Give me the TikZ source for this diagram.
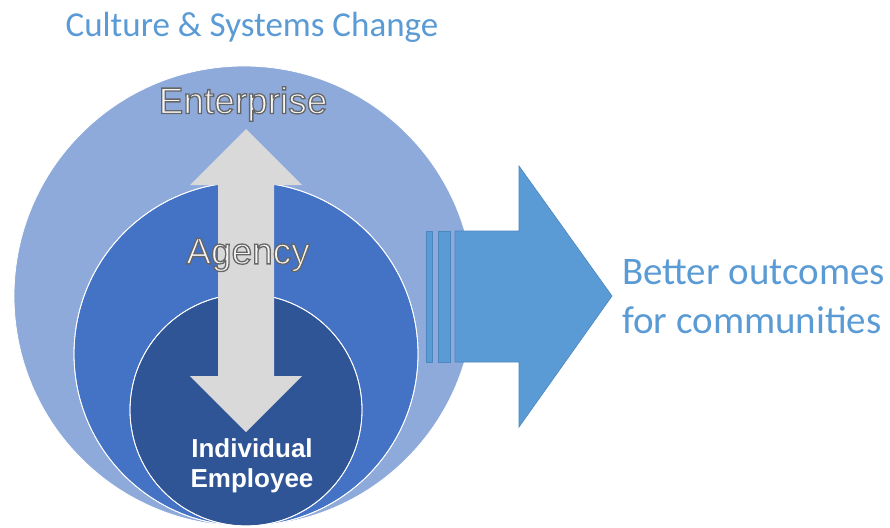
\documentclass[tikz,border=0pt]{standalone}
\usepackage{fontspec}
\setmainfont{Liberation Sans}
\newfontfamily\calibri{Carlito}
\definecolor{outerblue}{HTML}{8EAADB}
\definecolor{midblue}{HTML}{4472C4}
\definecolor{innerblue}{HTML}{2F5597}
\definecolor{textblue}{HTML}{5B9BD5}
\definecolor{arrowgray}{HTML}{D9D9D9}
\definecolor{edgeblue}{HTML}{4A86C0}
\tikzstyle{ring} = [draw=white, line width=0.8pt]
\tikzstyle{bigarrow} = [fill=textblue, draw=edgeblue, line width=0.6pt, line join=miter]
\tikzstyle{title} = [inner sep=0pt, text=textblue, font=\calibri\fontsize{35}{40}\selectfont]
\tikzstyle{level} = [inner sep=0pt, text=black!4, font=\fontsize{37}{40}\selectfont]
\tikzstyle{person} = [inner sep=0pt, text=white, align=center, font=\bfseries\fontsize{26}{30}\selectfont]
% stroked letters: light fill, grey outline
\newcommand{\outlined}[1]{\special{pdf:code 0.4 0.4 0.4 RG 1.3 w 2 Tr}#1\special{pdf:code 0 Tr}}

\begin{document}
\begin{tikzpicture}[x=1pt, y=-1pt]
                \useasboundingbox (0, 0) rectangle (890, 527);
                % nested circles, all touching at the bottom
                \fill[ring, fill=outerblue] (244, 296) circle[radius=230pt];
                \fill[ring, fill=midblue] (246, 354) circle[radius=172pt];
                \fill[ring, fill=innerblue] (246, 410) circle[radius=116pt];
                \draw[ring] (246, 354) circle[radius=172pt];
                \draw[ring] (246, 410) circle[radius=116pt];

                % up-down arrow
                \fill[arrowgray] (246, 129) -- (302, 185) -- (274, 185) -- (274, 376)
                    -- (302, 376) -- (246, 432) -- (190, 376) -- (218, 376)
                    -- (218, 185) -- (190, 185) -- cycle;

                % striped arrow to the right
                \foreach \a/\b in {426/432, 438/450} {
                    \draw[bigarrow] (\a, 231) rectangle (\b, 362);
                }
                \draw[bigarrow] (455, 231) -- (519, 231) -- (519, 166) -- (612, 296)
                    -- (519, 427) -- (519, 362) -- (455, 362) -- cycle;

                \node[title] (change) at (252, 27) {Culture \& Systems Change};
                \node[level] (enterprise) at (243, 104) {\outlined{Enterprise}};
                \node[level] (agency) at (248, 255) {\outlined{Agency}};
                \node[person] (employee) at (252, 466) {Individual\\Employee};
                \node[title, anchor=west, align=left, font=\calibri\fontsize{39}{49}\selectfont]
                    (outcome) at (622, 297) {Better outcomes\\for communities};
            \end{tikzpicture}
\end{document}
